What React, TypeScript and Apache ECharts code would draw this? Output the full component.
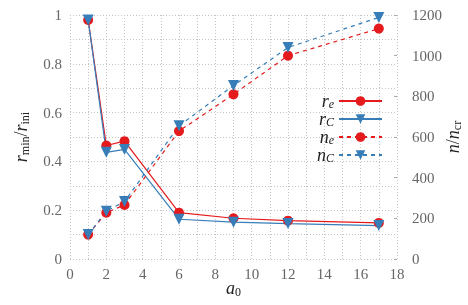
import React, { useEffect, useRef } from "react";
import * as echarts from "echarts";

const xValues = [1, 2, 3, 6, 9, 12, 17];
const rE = [0.98, 0.465, 0.483, 0.19, 0.167, 0.157, 0.148];
const rC = [0.98, 0.437, 0.449, 0.163, 0.151, 0.145, 0.137];
const nE = [120, 228, 266, 629, 810, 1000, 1133];
const nC = [120, 235, 283, 655, 853, 1040, 1188];
const seriesNames = ["re", "rC", "ne", "nC"];

const RED = "#e41a1c";
const BLUE = "#377eb8";
const FONT = "Liberation Serif";
const LABEL = "#666";

const pair = (ys: number[]) => xValues.map((x, i) => [x, ys[i]]);

const mathRich = {
  i: { fontFamily: FONT, fontStyle: "italic", fontSize: 18, color: "#222", lineHeight: 14 },
  n: { fontFamily: FONT, fontSize: 18, color: "#222", lineHeight: 14 },
  sub: { fontFamily: FONT, fontSize: 12, color: "#222", lineHeight: 12, padding: [7, 0, 0, 0] },
  subi: { fontFamily: FONT, fontStyle: "italic", fontSize: 12, color: "#222", lineHeight: 12, padding: [7, 0, 0, 0] },
};

const legendRich = {
  i: { fontFamily: FONT, fontStyle: "italic", fontSize: 18, color: "#222", lineHeight: 10 },
  subi: { fontFamily: FONT, fontStyle: "italic", fontSize: 12, color: "#222", lineHeight: 10, padding: [6, 0, 0, 0] },
};

const legendText: Record<string, string> = {
  re: "{i|r}{subi|e}",
  rC: "{i|r}{subi|C}",
  ne: "{i|n}{subi|e}",
  nC: "{i|n}{subi|C}",
};

export default function App() {
  const ref = useRef<HTMLDivElement>(null);
  useEffect(() => {
    if (!ref.current) return;
    const chart = echarts.init(ref.current, undefined, { renderer: "svg" });
    const split = { show: true, lineStyle: { type: [1, 2], color: "#c4c4c4", width: 1 } };
    const mk = (name: string, ys: number[], color: string, symbol: string, dashed: boolean, yIdx: number) => ({
      name,
      type: "line",
      yAxisIndex: yIdx,
      data: pair(ys),
      symbol,
      symbolSize: symbol === "circle" ? 10 : 11,
      symbolRotate: symbol === "triangle" ? 180 : 0,
      itemStyle: { color },
      lineStyle: { color, width: 1.2, type: dashed ? [4, 4] : "solid" },
      z: 2,
    });
    const numFmt = (v: number) => String(v);
    chart.setOption({
      animation: false,
      grid: { left: 70, right: 71, top: 15, bottom: 46, outerBoundsMode: "none", containLabel: false },
      legend: {
        orient: "vertical",
        right: 80,
        top: 87,
        align: "right",
        itemWidth: 43,
        itemHeight: 12,
        itemGap: 0,
        data: seriesNames,
        formatter: (name: string) => legendText[name],
        textStyle: { rich: legendRich, fontSize: 18 },
      },
      xAxis: {
        type: "value",
        min: 0,
        max: 18,
        interval: 2,
        name: "{i|a}{sub|0}",
        nameLocation: "middle",
        nameGap: 22,
        nameMoveOverlap: false,
        nameTextStyle: { rich: mathRich },
        axisLine: { show: false },
        axisTick: { show: false },
        axisLabel: { color: LABEL, fontFamily: FONT, fontSize: 15, margin: 7, formatter: numFmt },
        splitLine: split,
        minorTick: { show: true, splitNumber: 2, length: 0 },
        minorSplitLine: split,
      },
      yAxis: [
        {
          type: "value",
          min: 0,
          max: 1,
          interval: 0.2,
          name: "{i|r}{sub|min}{n|/}{i|r}{sub|ini}",
          nameLocation: "middle",
          nameRotate: 90,
          nameGap: 42,
          nameMoveOverlap: false,
          nameTextStyle: { rich: mathRich },
          axisLine: { show: false },
          axisTick: { show: false },
          axisLabel: { color: LABEL, fontFamily: FONT, fontSize: 15, margin: 8, formatter: numFmt },
          splitLine: split,
          minorTick: { show: true, splitNumber: 2, length: 0 },
          minorSplitLine: split,
        },
        {
          type: "value",
          min: 0,
          max: 1200,
          interval: 200,
          position: "right",
          name: "{i|n}{n|/}{i|n}{sub|cr}",
          nameLocation: "middle",
          nameRotate: 90,
          nameGap: 49,
          nameMoveOverlap: false,
          nameTextStyle: { rich: mathRich },
          axisLine: { show: false },
          axisTick: { show: true, inside: true, length: 3, lineStyle: { color: "#aaa" } },
          axisLabel: { color: LABEL, fontFamily: FONT, fontSize: 15, margin: 15, formatter: numFmt },
          splitLine: { show: false },
        },
      ],
      series: [
        mk("re", rE, RED, "circle", false, 0),
        mk("rC", rC, BLUE, "triangle", false, 0),
        mk("ne", nE, RED, "circle", true, 1),
        mk("nC", nC, BLUE, "triangle", true, 1),
      ],
    });
    return () => chart.dispose();
  }, []);
  return <div ref={ref} style={{ position: "fixed", left: 0, top: 0, width: 468, height: 305 }} />;
}
